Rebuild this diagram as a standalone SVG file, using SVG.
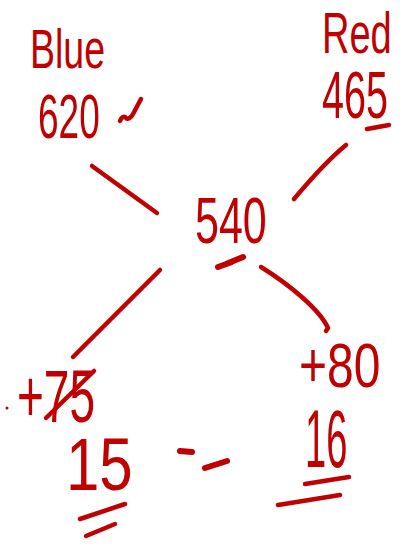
<svg xmlns="http://www.w3.org/2000/svg" width="411" height="548" viewBox="0 0 411 548">
<style>
.t{font-family:"Liberation Sans","DejaVu Sans",sans-serif;fill:#c00000}
.s{fill:none;stroke:#c00000;stroke-linecap:round;stroke-linejoin:round;stroke-width:4.5}
.m{fill:none;stroke:#c00000;stroke-linecap:round;stroke-width:6}
</style>
<rect width="411" height="548" fill="#ffffff"/>
<g id="blue">
<text class="t" transform="translate(30,68) scale(1,1.5)" font-size="37.5">Blue</text>
<text class="t" transform="translate(38,138) scale(1,1.7)" font-size="37">620</text>
<path class="s" d="M120,121 C122,116 125,116 126,118 C127,120 131,118 133,114 L141,99"/>
</g>
<g id="red">
<text class="t" transform="translate(322,53) scale(1,1.52)" font-size="38">Red</text>
<text class="t" transform="translate(322,118) scale(1,1.7)" font-size="39.5">465</text>
<path class="s" d="M367,129 L389,125"/>
</g>
<g id="center">
<text class="t" transform="translate(195,243) scale(1,1.5)" font-size="43">540</text>
<path class="m" d="M218,267 L232,262 L226,264 L243,257"/>
</g>
<g id="left">
<circle cx="7" cy="408" r="1.5" fill="#c00000"/>
<text class="t" transform="translate(17,422) scale(1,1.6)" font-size="46">+75</text>
<path class="s" d="M46,418 L94,371"/>
</g>
<g id="right">
<text class="t" transform="translate(299,387) scale(1,1.32)" font-size="48">+80</text>
</g>
<g id="fifteen">
<text class="t" transform="translate(66,490) scale(1,1.22)" font-size="60">15</text>
<path class="s" d="M80,519 L125,504"/>
<path class="s" d="M86,536 L115,524"/>
</g>
<g id="sixteen">
<text class="t" transform="translate(305,467) scale(1,2.15)" font-size="38">16</text>
<path class="s" d="M305,484 L349,477"/>
<path class="s" d="M278,505 L340,495"/>
</g>
<g id="dashes">
<path class="m" d="M180,451 L192,452"/>
<path class="m" d="M205,468 L227,461"/>
</g>
<g id="connectors">
<path class="s" d="M92,166 L157,213"/>
<path class="s" d="M346,145 C330,158 310,180 294,199"/>
<path class="s" d="M160,270 L73,357"/>
<path class="s" d="M261,267 C290,285 320,310 328,328 L326,331"/>
</g>
</svg>
